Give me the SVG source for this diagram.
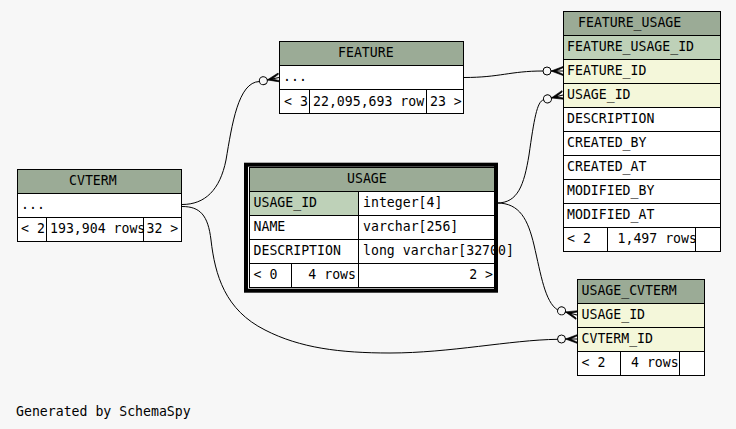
<svg xmlns="http://www.w3.org/2000/svg" xmlns:xlink="http://www.w3.org/1999/xlink" width="736" height="429" viewBox="0 0 736 429">
  <style>
    .hdr { fill: #9bab96; stroke: #000; stroke-width: 1; }
    .pk { fill: #bed1b8; stroke: #000; stroke-width: 1; }
    .fk { fill: #f4f7da; stroke: #000; stroke-width: 1; }
    .cell { fill: #ffffff; stroke: #000; stroke-width: 1; }
    text { font-family: "DejaVu Sans Mono", "Liberation Mono", monospace; font-size: 13.2px; fill: #000; }
    .edge { fill: none; stroke: #000; stroke-width: 1; }
    .focus { fill: none; stroke: #000; stroke-width: 4; }
  </style>
  <defs>
    <!-- crow's foot with optional-dot, drawn pointing right; origin is the table edge -->
    <g id="crowodot">
      <circle cx="-16" cy="0" r="4" fill="none" stroke="#000" stroke-width="1"/>
      <polygon points="-12,0 0,-4.5 0,-3.2 -7,0 0,3.2 0,4.5" fill="#000" stroke="#000" stroke-width="0.6"/>
      <line x1="-12" y1="0" x2="0" y2="0" stroke="#000" stroke-width="1"/>
    </g>
  </defs>

  <rect width="736" height="429" fill="#f7f7f7"/>

  <!-- connectors -->
  <g id="connectors">
    <path class="edge" d="M182,204.5 C205,204.5 220,190 226,160 C232,125 238,82 259.5,81.5"/>
    <use xlink:href="#crowodot" transform="translate(279,77.5) rotate(-11.5)"/>

    <path class="edge" d="M464,77.5 C500,77.5 510,71 543,71"/>
    <use xlink:href="#crowodot" transform="translate(563,71)"/>

    <path class="edge" d="M497,203 C518,203 524,185 529,155 C534,120 537,101 543.6,99.9"/>
    <use xlink:href="#crowodot" transform="translate(563,95) rotate(-14)"/>

    <path class="edge" d="M497,203 C520,203 528,220 534,245 C541,275 545,302 557.6,309.9"/>
    <use xlink:href="#crowodot" transform="translate(577,315) rotate(15)"/>

    <path class="edge" d="M182,206.5 C200,206.5 208,215 211,240 C215,275 225,310 265,330 C300,348 340,353 390,353 C450,353 510,340 557.5,339.3"/>
    <use xlink:href="#crowodot" transform="translate(577.5,339)"/>
  </g>

  <!-- FEATURE -->
  <g id="node-FEATURE">
    <rect class="hdr" x="279.5" y="41.5" width="184" height="24"/>
    <rect class="cell" x="279.5" y="65.5" width="184" height="24"/>
    <rect class="cell" x="279.5" y="89.5" width="30" height="24"/>
    <rect class="cell" x="309.5" y="89.5" width="117" height="24"/>
    <rect class="cell" x="426.5" y="89.5" width="37" height="24"/>
    <text x="338" y="57">FEATURE</text>
    <text x="283" y="81">...</text>
    <text x="284" y="106">&lt; 3</text>
    <text x="313" y="106">22,095,693 row</text>
    <text x="430" y="106">23 &gt;</text>
  </g>

  <!-- FEATURE_USAGE -->
  <g id="node-FEATURE_USAGE">
    <rect class="hdr" x="563.5" y="11.5" width="157" height="24"/>
    <rect class="pk" x="563.5" y="35.5" width="157" height="24"/>
    <rect class="fk" x="563.5" y="59.5" width="157" height="24"/>
    <rect class="fk" x="563.5" y="83.5" width="157" height="24"/>
    <rect class="cell" x="563.5" y="107.5" width="157" height="24"/>
    <rect class="cell" x="563.5" y="131.5" width="157" height="24"/>
    <rect class="cell" x="563.5" y="155.5" width="157" height="24"/>
    <rect class="cell" x="563.5" y="179.5" width="157" height="24"/>
    <rect class="cell" x="563.5" y="203.5" width="157" height="24"/>
    <rect class="cell" x="563.5" y="227.5" width="44" height="24"/>
    <rect class="cell" x="607.5" y="227.5" width="88" height="24"/>
    <rect class="cell" x="695.5" y="227.5" width="25" height="24"/>
    <text x="578" y="27">FEATURE_USAGE</text>
    <text x="567" y="51">FEATURE_USAGE_ID</text>
    <text x="567" y="75">FEATURE_ID</text>
    <text x="567" y="99">USAGE_ID</text>
    <text x="567" y="123">DESCRIPTION</text>
    <text x="567" y="147">CREATED_BY</text>
    <text x="567" y="171">CREATED_AT</text>
    <text x="567" y="195">MODIFIED_BY</text>
    <text x="567" y="219">MODIFIED_AT</text>
    <text x="567" y="243">&lt; 2</text>
    <text x="617.5" y="243">1,497 rows</text>
  </g>

  <!-- CVTERM -->
  <g id="node-CVTERM">
    <rect class="hdr" x="17.5" y="169.5" width="164" height="24"/>
    <rect class="cell" x="17.5" y="193.5" width="164" height="24"/>
    <rect class="cell" x="17.5" y="217.5" width="29" height="24"/>
    <rect class="cell" x="46.5" y="217.5" width="97" height="24"/>
    <rect class="cell" x="143.5" y="217.5" width="38" height="24"/>
    <text x="69" y="185">CVTERM</text>
    <text x="21" y="209">...</text>
    <text x="21" y="233">&lt; 2</text>
    <text x="50" y="233">193,904 rows</text>
    <text x="146.5" y="233">32 &gt;</text>
  </g>

  <!-- USAGE (focused table) -->
  <g id="node-USAGE">
    <rect class="hdr" x="249.5" y="167.5" width="246" height="24"/>
    <rect class="pk" x="249.5" y="191.5" width="109" height="24"/>
    <rect class="cell" x="358.5" y="191.5" width="137" height="24"/>
    <rect class="cell" x="249.5" y="215.5" width="109" height="24"/>
    <rect class="cell" x="358.5" y="215.5" width="137" height="24"/>
    <rect class="cell" x="249.5" y="239.5" width="109" height="24"/>
    <rect class="cell" x="358.5" y="239.5" width="137" height="24"/>
    <rect class="cell" x="249.5" y="263.5" width="42" height="24"/>
    <rect class="cell" x="291.5" y="263.5" width="67" height="24"/>
    <rect class="cell" x="358.5" y="263.5" width="137" height="24"/>
    <text x="347" y="183">USAGE</text>
    <text x="253.5" y="207">USAGE_ID</text>
    <text x="363" y="207">integer[4]</text>
    <text x="253.5" y="231">NAME</text>
    <text x="363" y="231">varchar[256]</text>
    <text x="253.5" y="255">DESCRIPTION</text>
    <text x="363" y="255">long varchar[32700]</text>
    <text x="253.5" y="279">&lt; 0</text>
    <text x="356" y="279" text-anchor="end">4 rows</text>
    <text x="493" y="279" text-anchor="end">2 &gt;</text>
    <rect class="focus" x="246" y="164.7" width="250" height="126"/>
  </g>

  <!-- USAGE_CVTERM -->
  <g id="node-USAGE_CVTERM">
    <rect class="hdr" x="577.5" y="279.5" width="127" height="24"/>
    <rect class="fk" x="577.5" y="303.5" width="127" height="24"/>
    <rect class="fk" x="577.5" y="327.5" width="127" height="24"/>
    <rect class="cell" x="577.5" y="351.5" width="43" height="24"/>
    <rect class="cell" x="620.5" y="351.5" width="59" height="24"/>
    <rect class="cell" x="679.5" y="351.5" width="25" height="24"/>
    <text x="581.5" y="295">USAGE_CVTERM</text>
    <text x="581.5" y="319">USAGE_ID</text>
    <text x="581.5" y="343">CVTERM_ID</text>
    <text x="581.5" y="367">&lt; 2</text>
    <text x="631" y="367">4 rows</text>
  </g>

  <text x="16" y="416">Generated by SchemaSpy</text>
</svg>
